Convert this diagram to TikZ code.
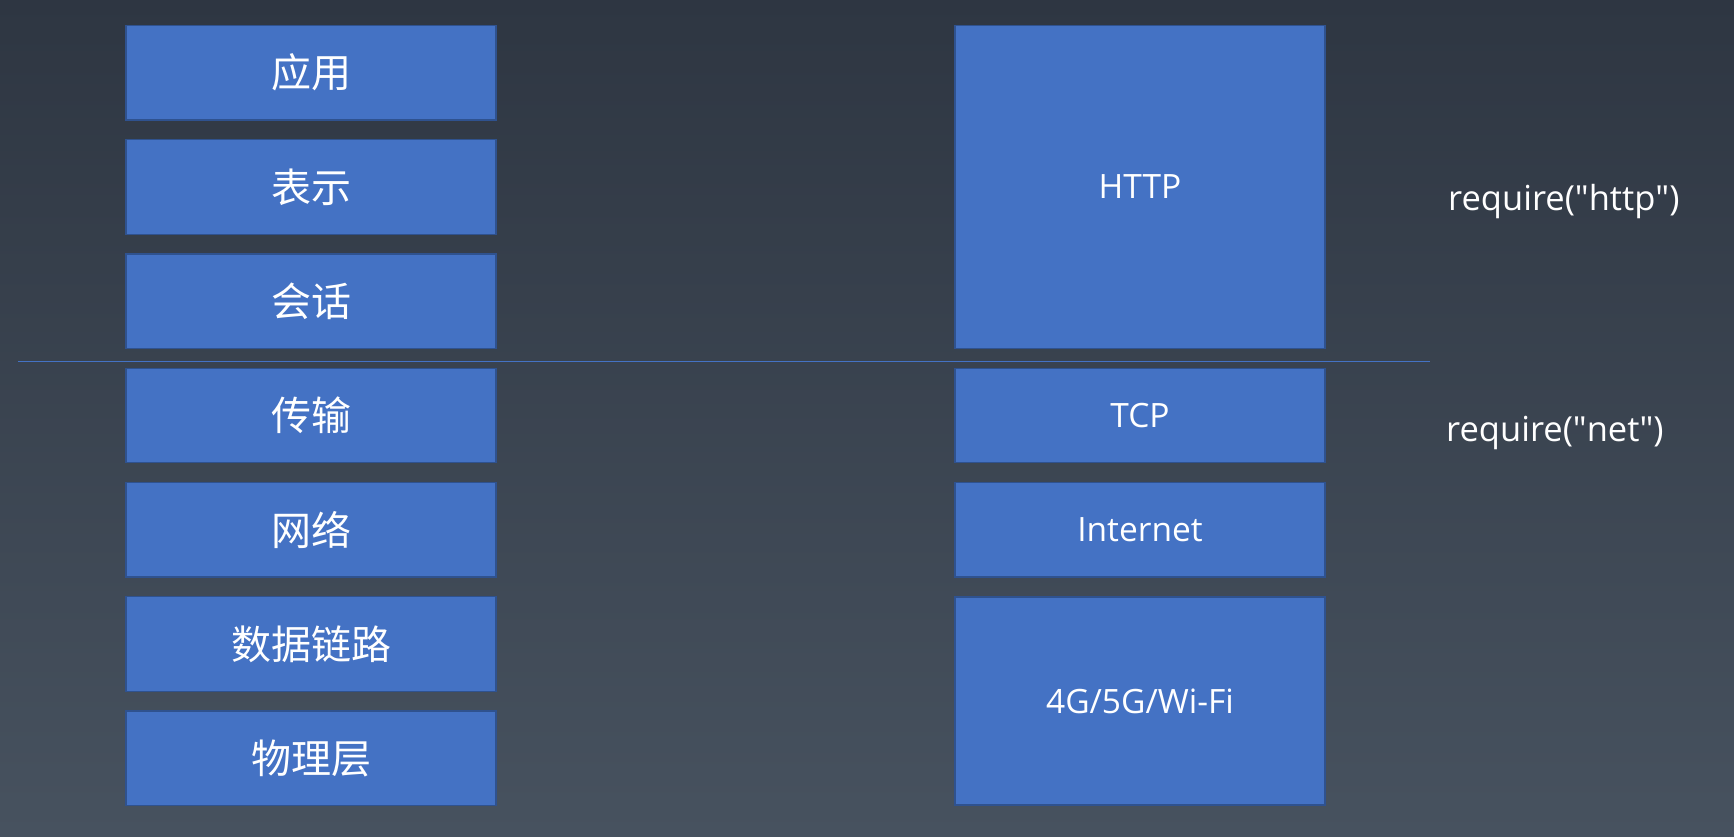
\documentclass[tikz,border=0pt]{standalone}
\usepackage{fontspec}
\setmainfont{Noto Sans CJK SC}
\newfontfamily\latinfont{Open Sans}
\definecolor{bgtop}{RGB}{46,54,66}
\definecolor{bgbot}{RGB}{71,82,95}
\definecolor{layerfill}{RGB}{68,114,196}
\definecolor{layerdraw}{RGB}{47,82,143}

\begin{document}
\begin{tikzpicture}[x=1pt, y=-1pt,
  layer/.style={draw=layerdraw, line width=1.2pt, fill=layerfill, text=white,
    minimum width=370pt, minimum height=94.5pt, inner sep=0pt},
  cjk/.style={font=\fontsize{40}{44}\selectfont},
  latin/.style={font=\latinfont\fontsize{33.5}{38}\selectfont},
  apilabel/.style={text=white, anchor=base west, inner sep=0pt, font=\latinfont\fontsize{34.5}{38}\selectfont}]

%Background
\shade[top color=bgtop, bottom color=bgbot] (0,0) rectangle (1734,836);
\useasboundingbox (0,0) rectangle (1734,836);

%OSI model
\node[layer, cjk] (app) at (311,72.75) {应用};
\node[layer, cjk] (pres) at (311,187) {表示};
\node[layer, cjk] (sess) at (311,301.25) {会话};
\node[layer, cjk] (trans) at (311,415.5) {传输};
\node[layer, cjk] (netw) at (311,529.75) {网络};
\node[layer, cjk] (link) at (311,644) {数据链路};
\node[layer, cjk] (phys) at (311,758.25) {物理层};

%Divider
\coordinate (divl) at (18,361.7);
\coordinate (divr) at (1430,361.7);
\draw[layerfill, line width=1.5pt] (divl) -- (divr);

%Internet model
\node[layer, latin, minimum height=323pt] (http) at (1140,187) {HTTP};
\node[layer, latin] (tcp) at (1140,415.5) {TCP};
\node[layer, latin] (inet) at (1140,529.75) {Internet};
\node[layer, latin, minimum height=208pt] (wifi) at (1140,701) {4G/5G/Wi-Fi};

%%Node modules
\node[apilabel] (reqhttp) at (1448,210.7) {require(\textquotedbl http\textquotedbl)};
\node[apilabel] (reqnet) at (1446,441.7) {require(\textquotedbl net\textquotedbl)};
\end{tikzpicture}
\end{document}
